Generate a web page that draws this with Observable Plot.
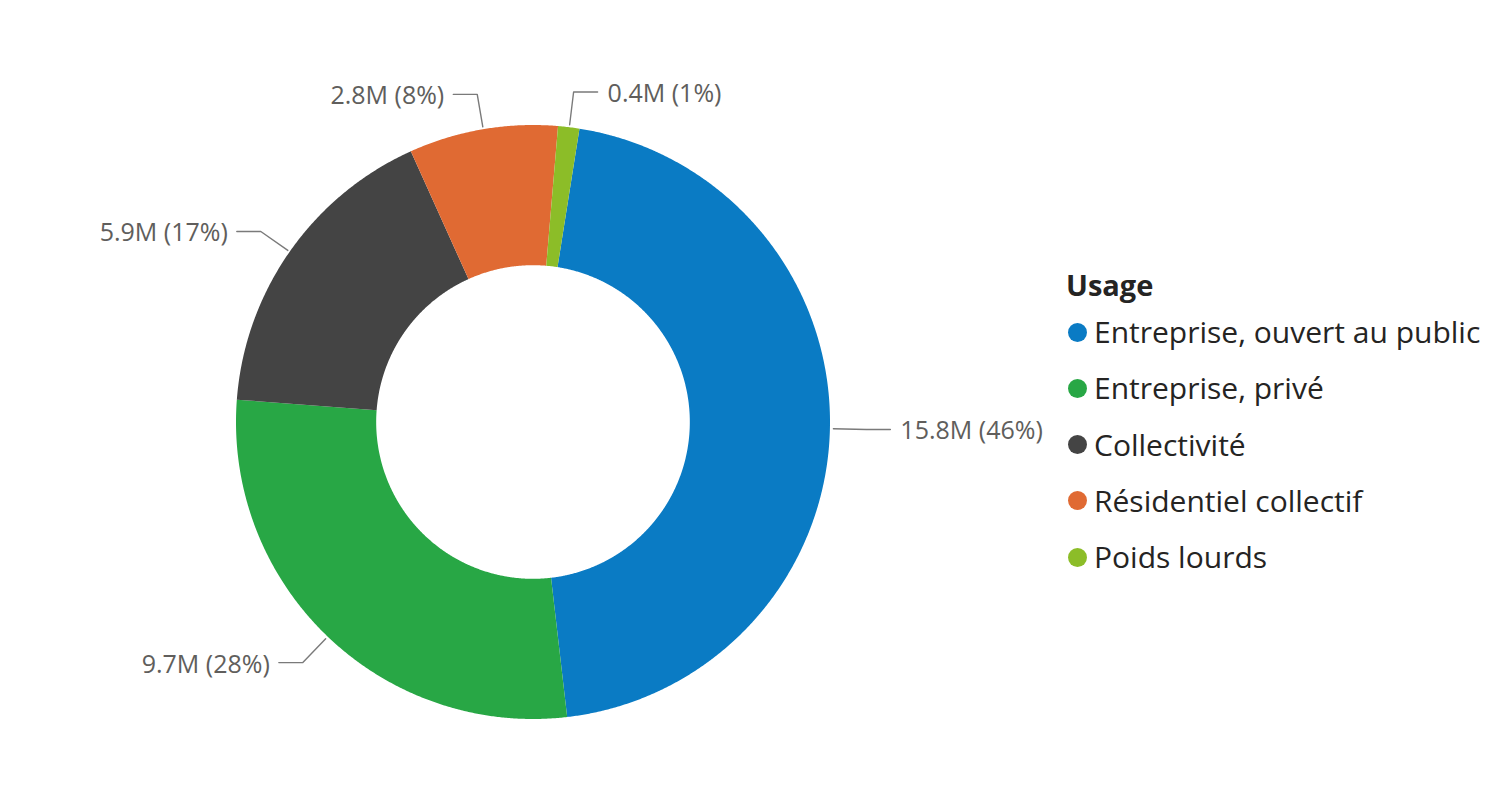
<!DOCTYPE html>
<html><head><meta charset="utf-8">
<script src="https://cdn.jsdelivr.net/npm/d3@7"></script>
<script src="https://cdn.jsdelivr.net/npm/@observablehq/plot@0.6"></script>
<style>
body{margin:0;background:#fff;font-family:"Open Sans",sans-serif;}
#wrap{position:relative;width:1510px;height:790px;overflow:hidden;}
#legend{position:absolute;left:0;top:0;}
.lg-title{position:absolute;left:1066px;top:265px;font-size:29px;font-weight:700;color:#252423;line-height:40px;white-space:nowrap;}
.lg-item{position:absolute;left:1068px;height:40px;line-height:40px;font-size:30px;color:#252423;white-space:nowrap;}
.lg-dot{position:absolute;left:0;top:10.5px;width:19px;height:19px;border-radius:50%;}
.lg-text{position:absolute;left:26px;top:0;}
</style></head><body><div id="wrap"></div>
<script>
const categories = ["Entreprise, ouvert au public", "Entreprise, privé", "Collectivité", "Résidentiel collectif", "Poids lourds"];
const values = [15.8, 9.7, 5.9, 2.8, 0.4];
const colors = ["#0A7BC4", "#28A745", "#444444", "#E06A33", "#8CBD28"];
const legendTitle = "Usage";

const W = 1510, H = 790, cx = 533, cy = 422, R = 297;
const innerRatio = 0.528;
const startDeg = 9;
const total = d3.sum(values);

const slices = [];
let acc = startDeg * Math.PI / 180;
categories.forEach((c, i) => {
  const span = values[i] / total * 2 * Math.PI;
  slices.push({cat: c, value: values[i], a0: acc, a1: acc + span, pct: Math.round(values[i] / total * 100)});
  acc += span;
});

const arcPts = [];
for (const s of slices) {
  const n = Math.max(2, Math.ceil((s.a1 - s.a0) / 0.005));
  for (let k = 0; k <= n; k++) {
    const a = s.a0 + (s.a1 - s.a0) * k / n;
    arcPts.push({cat: s.cat, x1: innerRatio * Math.sin(a), y1: innerRatio * Math.cos(a), x2: Math.sin(a), y2: Math.cos(a)});
  }
}

const r0 = 1.01, r1 = 1.121, hseg = 24 / R;
const leaderPts = [];
const labels = [];
for (const s of slices) {
  const m = (s.a0 + s.a1) / 2;
  const side = Math.sin(m) >= 0 ? 1 : -1;
  const ex = r1 * Math.sin(m), ey = r1 * Math.cos(m);
  leaderPts.push({cat: s.cat, x: r0 * Math.sin(m), y: r0 * Math.cos(m)});
  leaderPts.push({cat: s.cat, x: ex, y: ey});
  leaderPts.push({cat: s.cat, x: ex + side * hseg, y: ey});
  labels.push({side, x: ex + side * hseg, y: ey, text: `${s.value.toFixed(1)}M (${s.pct}%)`});
}

const plot = Plot.plot({
  width: W, height: H,
  margin: 0,
  x: {domain: [-cx / R, (W - cx) / R], axis: null},
  y: {domain: [-(H - cy) / R, cy / R], axis: null},
  color: {domain: categories, range: colors},
  style: {fontFamily: "Open Sans", background: "#fff"},
  marks: [
    Plot.area(arcPts, {x1: "x1", y1: "y1", x2: "x2", y2: "y2", z: "cat", fill: "cat", curve: "linear"}),
    Plot.line(leaderPts, {x: "x", y: "y", z: "cat", stroke: "#7a7a7a", strokeWidth: 1.4, curve: "linear"}),
    Plot.text(labels.filter(d => d.side > 0), {x: "x", y: "y", text: "text", textAnchor: "start", dx: 10, dy: 2, fontSize: 25, fill: "#605E5C"}),
    Plot.text(labels.filter(d => d.side < 0), {x: "x", y: "y", text: "text", textAnchor: "end", dx: -9, dy: 2, fontSize: 25, fill: "#605E5C"})
  ]
});

const wrap = document.getElementById("wrap");
wrap.appendChild(plot);

const legend = document.createElement("div");
legend.id = "legend";
const t = document.createElement("div");
t.className = "lg-title";
t.textContent = legendTitle;
legend.appendChild(t);
categories.forEach((c, i) => {
  const row = document.createElement("div");
  row.className = "lg-item";
  row.style.top = (312 + 56.25 * i) + "px";
  const dot = document.createElement("span");
  dot.className = "lg-dot";
  dot.style.background = colors[i];
  const tx = document.createElement("span");
  tx.className = "lg-text";
  tx.textContent = c;
  row.appendChild(dot);
  row.appendChild(tx);
  legend.appendChild(row);
});
wrap.appendChild(legend);
</script>
</body></html>
